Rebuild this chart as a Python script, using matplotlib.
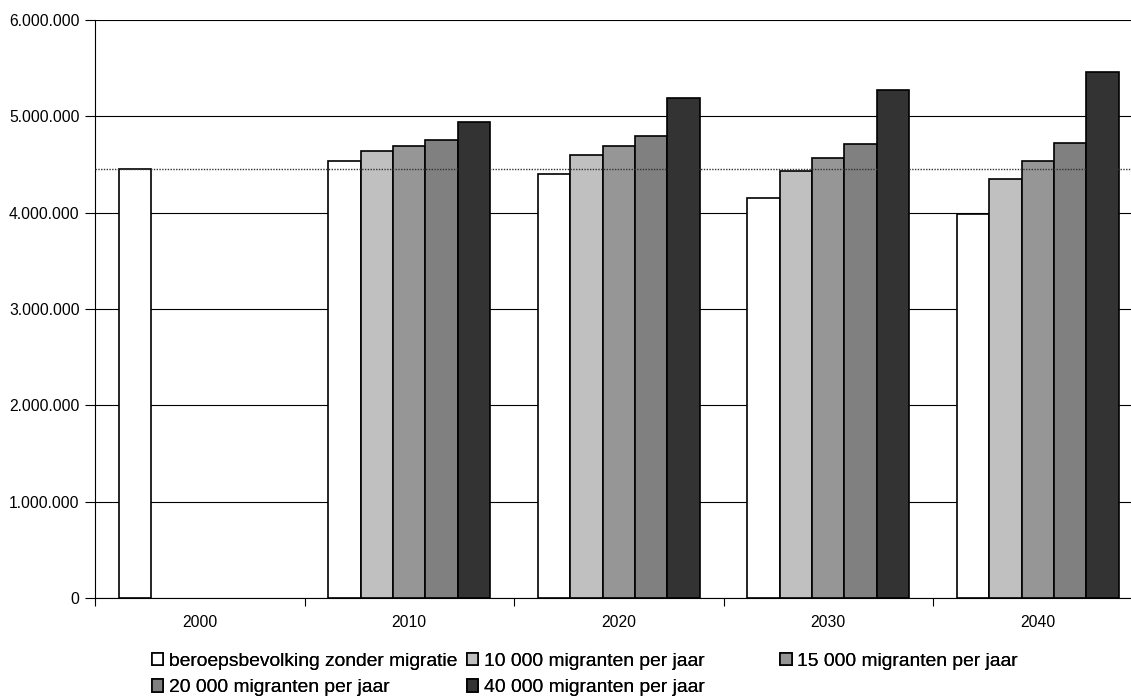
import numpy as np
import matplotlib
matplotlib.use("Agg")
import matplotlib.pyplot as plt
from matplotlib.ticker import FuncFormatter

plt.rcParams['font.family'] = ['Liberation Sans', 'DejaVu Sans']

jaren = ['2000', '2010', '2020', '2030', '2040']
reeksen = ['beroepsbevolking zonder migratie', '10 000 migranten per jaar',
           '15 000 migranten per jaar', '20 000 migranten per jaar',
           '40 000 migranten per jaar']
zonder_migratie = [4450000, 4540000, 4405000, 4150000, 3985000]
migratie_10k = [np.nan, 4640000, 4600000, 4430000, 4350000]
migratie_15k = [np.nan, 4690000, 4695000, 4570000, 4540000]
migratie_20k = [np.nan, 4750000, 4795000, 4710000, 4720000]
migratie_40k = [np.nan, 4945000, 5190000, 5275000, 5460000]
niveau_2000 = 4450000

waarden = [zonder_migratie, migratie_10k, migratie_15k, migratie_20k, migratie_40k]
kleuren = ['#FFFFFF', '#C0C0C0', '#969696', '#808080', '#333333']

fig = plt.figure(figsize=(11.31, 7), dpi=100)
# het plotgebied loopt rechts iets voorbij de figuurrand
ax = fig.add_axes([95 / 1131, 102 / 700, 1047.5 / 1131, 578 / 700])

x = np.arange(len(jaren))
breedte = 0.155
staven = []
for i, (reeks, kleur) in enumerate(zip(waarden, kleuren)):
    pos = x - 2 * breedte + i * breedte
    b = ax.bar(pos, reeks, width=breedte, color=kleur, edgecolor='black',
               linewidth=1.2, zorder=2, label=reeksen[i])
    staven.append(b)

ax.axhline(niveau_2000, color='#333333', linestyle=(0, (1, 1)), linewidth=1, zorder=3)

ax.set_xlim(-0.5, len(jaren) - 0.5)
ax.set_ylim(0, 6000000)
ax.set_yticks(np.arange(0, 6000001, 1000000))
ax.yaxis.set_major_formatter(FuncFormatter(lambda v, p: f'{int(v):,}'.replace(',', '.')))
ax.grid(axis='y', color='black', linewidth=0.8, zorder=0)
ax.set_axisbelow(True)

ax.set_xticks(np.arange(-0.5, len(jaren), 1.0))
ax.set_xticklabels([])
ax.set_xticks(x, minor=True)
ax.set_xticklabels(jaren, minor=True)
ax.tick_params(axis='x', which='minor', length=0, pad=12, labelsize=11.3)
ax.tick_params(axis='x', which='major', length=6, direction='out')
ax.tick_params(axis='y', length=7, direction='out', labelsize=11.3, pad=4)

for kant in ['top', 'right']:
    ax.spines[kant].set_visible(False)

# legenda in drie kolommen van gelijke breedte, rij voor rij gevuld
kolommen = [[0, 3], [1, 4], [2]]
kolom_x = [151.5 / 1131, 466.5 / 1131, 780 / 1131]
for idx, kx in zip(kolommen, kolom_x):
    leg = fig.legend([staven[i] for i in idx], [reeksen[i] for i in idx],
                     loc='upper left', bbox_to_anchor=(kx, 1 - 653 / 700),
                     ncol=1, frameon=False, fontsize=13.9, handlelength=0.6,
                     handleheight=0.6, handletextpad=0.3, labelspacing=0.48,
                     borderpad=0, borderaxespad=0)
    fig.add_artist(leg)

fig.savefig('out.png', dpi=100)
